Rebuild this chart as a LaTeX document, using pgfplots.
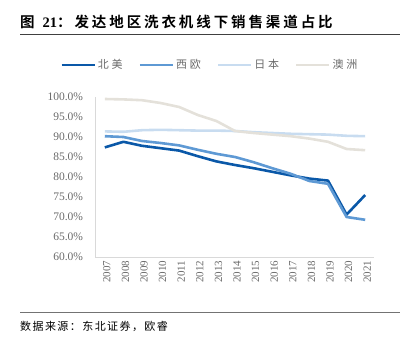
\documentclass[border=0pt]{standalone}
\usepackage{pgfplots}
\pgfplotsset{compat=1.18}
\usepackage{fontspec}
\setmainfont{Liberation Serif}
\newfontfamily\serif{Liberation Serif}
\newfontfamily\cjk{Noto Sans CJK SC}
\newfontfamily\cjkb{Noto Sans CJK SC Bold}
\definecolor{cNA}{RGB}{10,88,168}
\definecolor{cEU}{RGB}{94,153,212}
\definecolor{cJP}{RGB}{200,220,240}
\definecolor{cAU}{RGB}{228,225,218}
\definecolor{tickgray}{RGB}{105,105,105}
\begin{document}
\begin{tikzpicture}
\useasboundingbox (0,0) rectangle (408pt,341pt);
\node[anchor=west,inner sep=0pt] at (20pt,319pt) {\fontsize{14.5}{14.5}\selectfont\cjkb\addfontfeature{LetterSpace=20}图\hspace{8pt}{\bfseries\serif 21}：发达地区洗衣机线下销售渠道占比};
\draw[line width=0.8pt,black!75] (20pt,307pt) -- (400pt,307pt);
\draw[line width=0.8pt,black!55] (20pt,29pt) -- (400pt,29pt);
\node[anchor=west,inner sep=0pt] at (20pt,15pt) {\fontsize{11}{11}\selectfont\cjk\addfontfeature{LetterSpace=13}数据来源：东北证券，欧睿};
\begin{axis}[
  at={(95.5pt,84pt)}, anchor=south west,
  scale only axis, width=279pt, height=160pt,
  xmin=2006.5, xmax=2021.5, ymin=60, ymax=100,
  axis x line=bottom, axis y line=left,
  axis line style={draw=black!15, line width=0.8pt, -},
  xtick={2007,2008,2009,2010,2011,2012,2013,2014,2015,2016,2017,2018,2019,2020,2021},
  xticklabels={2007,2008,2009,2010,2011,2012,2013,2014,2015,2016,2017,2018,2019,2020,2021},
  ytick={60,65,70,75,80,85,90,95,100},
  yticklabels={60.0\%,65.0\%,70.0\%,75.0\%,80.0\%,85.0\%,90.0\%,95.0\%,100.0\%},
  x tick label style={rotate=90, anchor=east, font=\serif\fontsize{11}{11}\selectfont, text=tickgray, yshift=-2pt},
  y tick label style={font=\serif\fontsize{11.5}{11.5}\selectfont, text=tickgray, xshift=-9pt},
  major tick length=0pt,
  legend columns=4,
  legend style={at={(0.41,1.2)}, anchor=center, draw=none, fill=none,
    font=\cjk\fontsize{11}{11}\selectfont\addfontfeature{LetterSpace=25}, text=tickgray,
    /tikz/every even column/.append style={column sep=14pt}},
  legend image code/.code={\draw[#1, line width=2.5pt] (0pt,0pt) -- (33pt,0pt);},
  every axis plot/.append style={line width=2.6pt, line join=round},
]
\addplot[cNA] coordinates {(2007,87.4)(2008,88.8)(2009,87.8)(2010,87.2)(2011,86.6)(2012,85.2)(2013,83.9)(2014,83.0)(2015,82.2)(2016,81.3)(2017,80.4)(2018,79.6)(2019,79.1)(2020,70.6)(2021,75.5)};
\addplot[cEU] coordinates {(2007,90.2)(2008,90.0)(2009,89.0)(2010,88.5)(2011,87.9)(2012,86.8)(2013,85.8)(2014,85.0)(2015,83.7)(2016,82.2)(2017,80.8)(2018,79.0)(2019,78.3)(2020,70.0)(2021,69.3)};
\addplot[cJP] coordinates {(2007,91.4)(2008,91.3)(2009,91.7)(2010,91.8)(2011,91.7)(2012,91.6)(2013,91.6)(2014,91.5)(2015,91.2)(2016,91.0)(2017,90.8)(2018,90.7)(2019,90.6)(2020,90.3)(2021,90.2)};
\addplot[cAU] coordinates {(2007,99.5)(2008,99.4)(2009,99.2)(2010,98.5)(2011,97.5)(2012,95.5)(2013,94.0)(2014,91.5)(2015,91.0)(2016,90.6)(2017,90.2)(2018,89.6)(2019,88.8)(2020,87.0)(2021,86.7)};
\legend{北美,西欧,日本,澳洲}
\end{axis}
\end{tikzpicture}
\end{document}
